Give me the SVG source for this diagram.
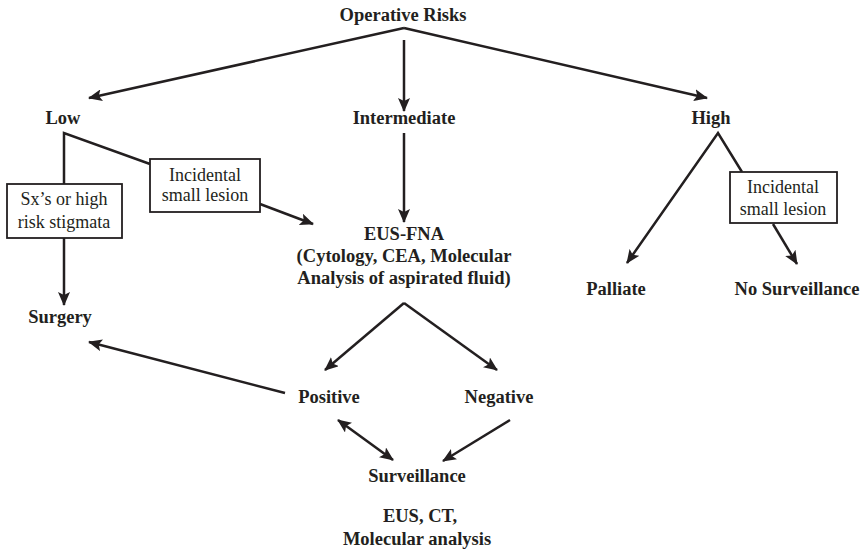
<svg xmlns="http://www.w3.org/2000/svg" width="863" height="552" viewBox="0 0 863 552">
<defs>
<marker id="ah" markerUnits="userSpaceOnUse" markerWidth="14" markerHeight="12" refX="13" refY="6" orient="auto-start-reverse">
<path d="M0,0 L14,6 L0,12 L3,6 z" fill="#231f20"/>
</marker>
<style>
text{font-family:'Liberation Serif','Times New Roman',Tinos,'DejaVu Serif',serif;fill:#231f20;text-anchor:middle}
.b{font-weight:bold;font-size:18.5px}
.n{font-size:18px}
.c{fill:none;stroke:#231f20;stroke-width:2.5}
.a{marker-end:url(#ah)}
.box{fill:#fff;stroke:#231f20;stroke-width:1.8}
</style>
</defs>
<rect width="863" height="552" fill="#fff"/>
<g id="connectors">
<path class="c a" d="M404,28 L89,98"/>
<path class="c a" d="M404,28 L707,98"/>
<path class="c a" d="M404,40 L404,111"/>
<path class="c" d="M64,184 L64,133 L150,164"/>
<path class="c a" d="M64,238 L64,305"/>
<path class="c a" d="M260,204 L313,224"/>
<path class="c a" d="M404,133 L404,222"/>
<path class="c a" d="M404,303 L325,370"/>
<path class="c a" d="M404,303 L497,370"/>
<path class="c a" d="M285,393 L89,342"/>
<path class="c a" d="M338,420 L393,460" style="marker-start:url(#ah)"/>
<path class="c a" d="M510,420 L443,461"/>
<path class="c a" d="M742,172 L718,133 L627,263"/>
<path class="c a" d="M773,224 L797,264"/>
</g>
<g id="operative-risks"><text class="b" x="403" y="21" font-family="Liberation Serif">Operative Risks</text></g>
<g id="low"><text class="b" x="63" y="124">Low</text></g>
<g id="intermediate"><text class="b" x="404" y="124">Intermediate</text></g>
<g id="high"><text class="b" x="711" y="124">High</text></g>
<g id="incidental-left"><rect class="box" x="150" y="159" width="110" height="53"/><text class="n" x="205" y="181">Incidental</text><text class="n" x="205" y="201">small lesion</text></g>
<g id="sx"><rect class="box" x="7" y="184" width="115" height="54"/><text class="n" x="64" y="205">Sx’s or high</text><text class="n" x="64" y="228">risk stigmata</text></g>
<g id="surgery"><text class="b" x="60" y="323">Surgery</text></g>
<g id="eus-fna"><text class="b" x="404" y="240">EUS-FNA</text><text class="b" x="404" y="262">(Cytology, CEA, Molecular</text><text class="b" x="404" y="284">Analysis of aspirated fluid)</text></g>
<g id="positive"><text class="b" x="329" y="403">Positive</text></g>
<g id="negative"><text class="b" x="499" y="403">Negative</text></g>
<g id="surveillance"><text class="b" x="417" y="482">Surveillance</text></g>
<g id="surveillance-methods"><text class="b" x="420" y="522">EUS, CT,</text><text class="b" x="417" y="545">Molecular analysis</text></g>
<g id="incidental-right"><rect class="box" x="730" y="172" width="107" height="51"/><text class="n" x="783" y="193">Incidental</text><text class="n" x="783" y="215">small lesion</text></g>
<g id="palliate"><text class="b" x="616" y="295">Palliate</text></g>
<g id="no-surveillance"><text class="b" x="797" y="295">No Surveillance</text></g>
</svg>
